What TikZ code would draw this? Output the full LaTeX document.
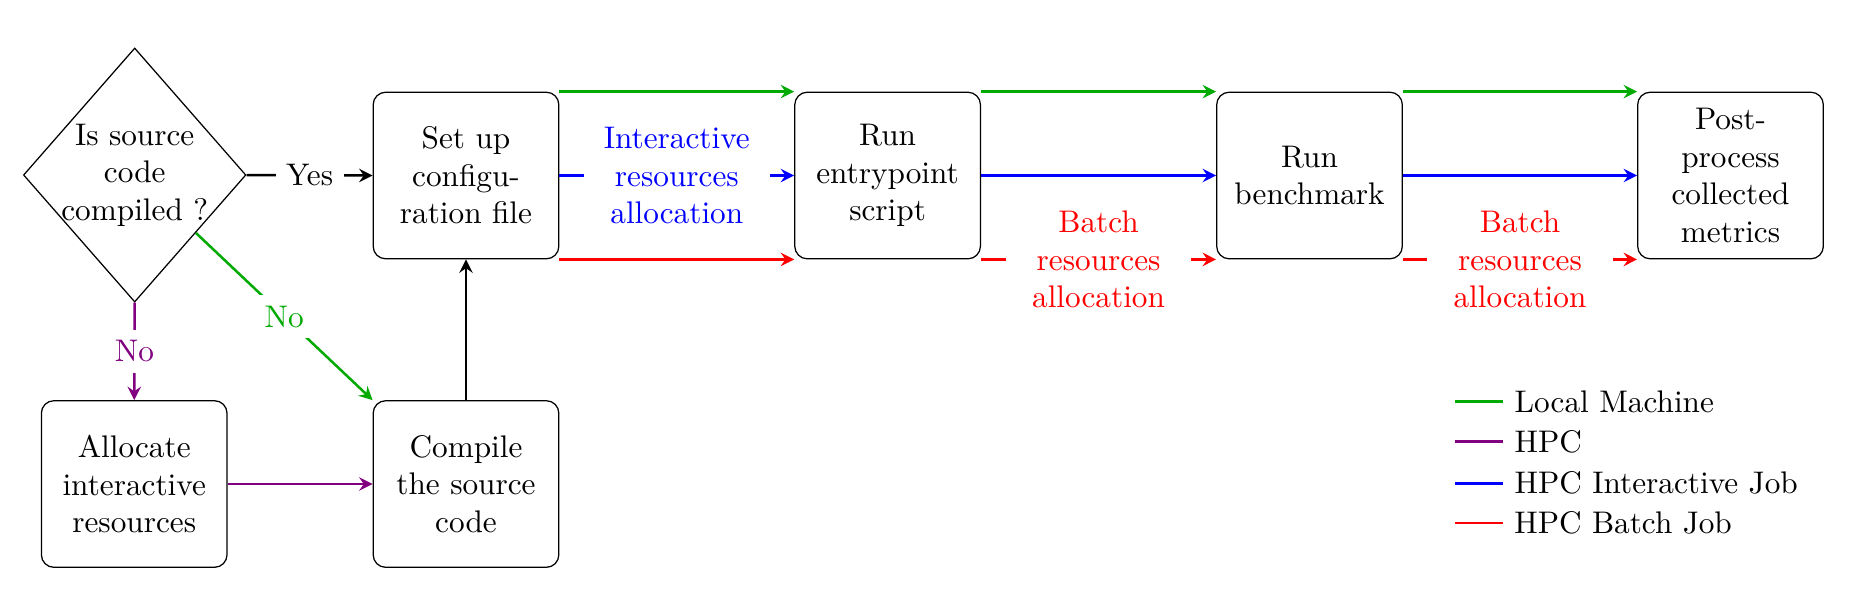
\documentclass[tikz,border=0pt]{standalone}
\usetikzlibrary{shapes.geometric,arrows.meta}
\definecolor{lgreen}{RGB}{0,170,0}
\definecolor{hpcviolet}{RGB}{128,0,128}
\begin{document}
\begin{tikzpicture}[x=0.01125cm,y=-0.01125cm,
  box/.style={draw, rounded corners=4pt, minimum width=59.4pt, minimum height=53.3pt,
    text width=52.7pt, align=center, inner sep=3.33pt},
  decision/.style={draw, diamond, minimum width=71.2pt, minimum height=81.3pt, inner sep=0pt},
  conn/.style={thick, -{Stealth[length=4.3pt,width=4.3pt,inset=1.5pt]}},
  lbl/.style={fill=white, midway, align=center},
  widelbl/.style={lbl, text width=52.7pt, inner sep=3.33pt},
  legline/.style={thick}]
\useasboundingbox (0,0) rectangle (1853,602);

\node[decision, label={[align=center]center:Is source\\code\\compiled ?}] (dia) at (134.7,175) {};
\node[box] (setup) at (466,175.5) {Set up\\configu-\\ration file};
\node[box] (entry) at (887.6,175.5) {Run\\entrypoint\\script};
\node[box] (bench) at (1309.5,175.5) {Run\\benchmark};
\node[box] (post) at (1730.5,175.5) {Post-\\process\\collected\\metrics};
\node[box] (alloc) at (134.2,484) {Allocate\\interactive\\resources};
\node[box] (compile) at (466,484) {Compile\\the source\\code};

\draw[conn] (dia.east) -- node[lbl]{Yes} (setup.west);
\draw[conn, hpcviolet] (dia.south) -- node[lbl, text=hpcviolet]{No} (alloc.north);
\draw[conn, lgreen] (dia) -- node[lbl, text=lgreen]{No} (compile.north west);
\draw[conn, hpcviolet] (alloc) -- (compile);
\draw[conn] (compile) -- (setup);

\draw[conn, lgreen] (setup.north east) -- (entry.north west);
\draw[conn, lgreen] (entry.north east) -- (bench.north west);
\draw[conn, lgreen] (bench.north east) -- (post.north west);

\draw[conn, blue] (setup) -- node[widelbl, text=blue]{Interactive\\resources\\allocation} (entry);
\draw[conn, blue] (entry) -- (bench);
\draw[conn, blue] (bench) -- (post);

\draw[conn, red] (setup.south east) -- (entry.south west);
\draw[conn, red] (entry.south east) -- node[widelbl, text=red]{Batch\\resources\\allocation} (bench.south west);
\draw[conn, red] (bench.south east) -- node[widelbl, text=red]{Batch\\resources\\allocation} (post.south west);

\coordinate (lg1a) at (1455,401.7); \coordinate (lg1b) at (1503,401.7);
\coordinate (lg2a) at (1455,441.7); \coordinate (lg2b) at (1503,441.7);
\coordinate (lg3a) at (1455,483.3); \coordinate (lg3b) at (1503,483.3);
\coordinate (lg4a) at (1455,523.3); \coordinate (lg4b) at (1503,523.3);
\draw[legline, lgreen] (lg1a) -- (lg1b) node[right, text=black] (lgt1) {Local Machine};
\draw[legline, hpcviolet] (lg2a) -- (lg2b) node[right, text=black] (lgt2) {HPC};
\draw[legline, blue] (lg3a) -- (lg3b) node[right, text=black] (lgt3) {HPC Interactive Job};
\draw[semithick, red] (lg4a) -- (lg4b) node[right, text=black] (lgt4) {HPC Batch Job};
\end{tikzpicture}
\end{document}
